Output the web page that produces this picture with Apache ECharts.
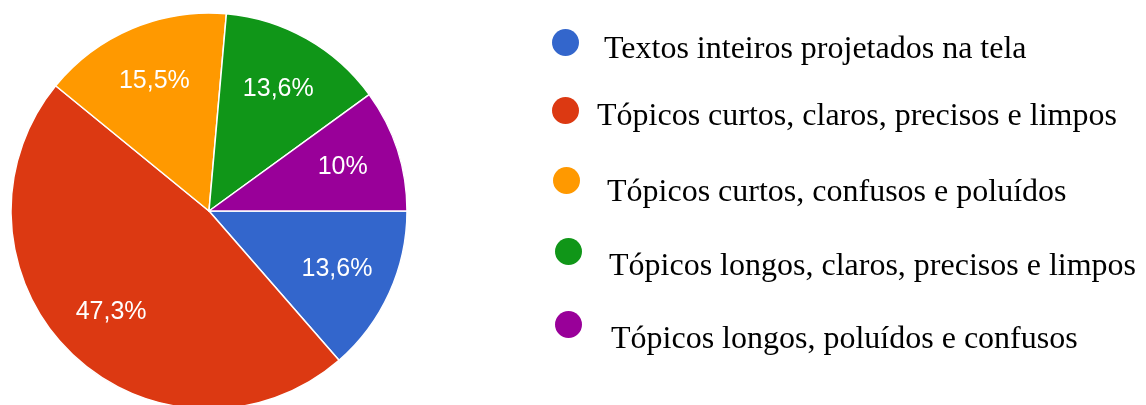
<!DOCTYPE html>
<html>
<head>
<meta charset="utf-8">
<script src="https://cdn.jsdelivr.net/npm/echarts@6/dist/echarts.min.js"></script>
<style>
  html, body { margin: 0; padding: 0; background: #ffffff; }
  #chart { width: 1146px; height: 405px; }
</style>
</head>
<body>
<div id="chart"></div>
<script>
// Respostas: formato de slides preferido
const categories = [
  'Textos inteiros projetados na tela',
  'Tópicos curtos, claros, precisos e limpos',
  'Tópicos curtos, confusos e poluídos',
  'Tópicos longos, claros, precisos e limpos',
  'Tópicos longos, poluídos e confusos'
];
const percentages = [13.6, 47.3, 15.5, 13.6, 10];
const colors = ['#3366cc', '#dc3912', '#ff9900', '#109618', '#990099'];

// Legend placement: [left, top, text shift x, text shift y]
const legendSpots = [
  [552, 29, 20, 7],
  [552, 97, 13, 6],
  [553, 167, 22, 12],
  [555, 238, 22, 15],
  [555, 311, 24, 15]
];

const pieData = categories.map((name, i) => ({
  name: name,
  value: percentages[i],
  itemStyle: { color: colors[i] }
}));

const fmtPct = v => String(v).replace('.', ',') + '%';

const chart = echarts.init(document.getElementById('chart'), null, { renderer: 'canvas' });

const center = [209, 211];
const R = 198;

chart.setOption({
  animation: false,
  backgroundColor: '#ffffff',
  legend: legendSpots.map((s, i) => ({
    data: [categories[i]],
    orient: 'vertical',
    left: s[0],
    top: s[1],
    padding: 0,
    icon: 'circle',
    itemWidth: 27,
    itemHeight: 27,
    selectedMode: false,
    itemStyle: { borderWidth: 0 },
    formatter: name => '{t|' + name + '}',
    textStyle: {
      fontFamily: '"Liberation Serif", "Times New Roman", serif',
      fontSize: 32,
      color: '#000000',
      rich: {
        t: {
          fontFamily: '"Liberation Serif", "Times New Roman", serif',
          fontSize: 32,
          color: '#000000',
          padding: [2 * s[3], 0, 0, s[2]]
        }
      }
    }
  })),
  series: [
    {
      type: 'pie',
      center: center,
      radius: [0, R],
      startAngle: 0,
      clockwise: true,
      silent: true,
      label: { show: false },
      labelLine: { show: false },
      itemStyle: { borderColor: '#ffffff', borderWidth: 1.5 },
      data: pieData
    },
    {
      // transparent ring that carries the percentage labels at ~0.7 of the radius
      type: 'pie',
      center: center,
      radius: [0, R * 1.39],
      startAngle: 0,
      clockwise: true,
      silent: true,
      legendHoverLink: false,
      itemStyle: { color: 'rgba(0,0,0,0)', borderWidth: 0 },
      labelLine: { show: false },
      label: {
        show: true,
        position: 'inside',
        formatter: p => fmtPct(p.value),
        color: '#ffffff',
        fontFamily: 'Arial, "Liberation Sans", sans-serif',
        fontSize: 25
      },
      data: percentages.map((v, i) => ({ name: categories[i], value: v }))
    }
  ]
});
</script>
</body>
</html>
